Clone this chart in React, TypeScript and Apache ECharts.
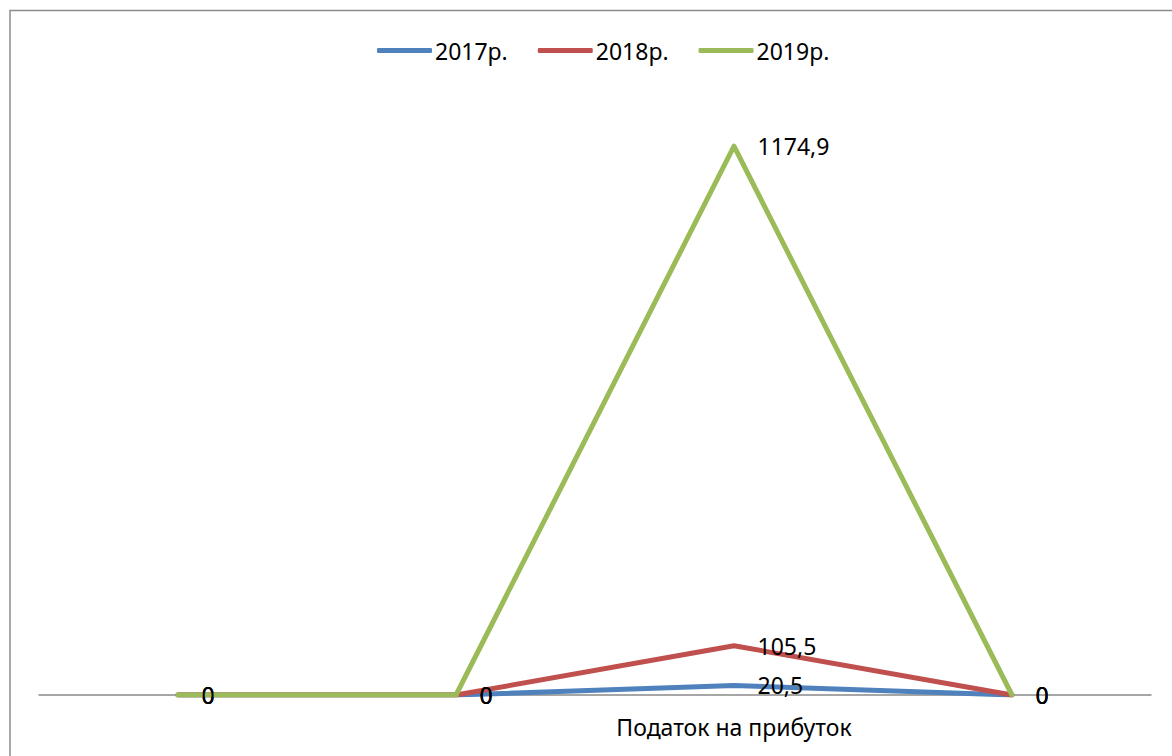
import React, { useEffect, useRef } from "react";
import * as echarts from "echarts";

// Category axis: only the third slot carries a caption
const categories = ["", "", "Податок на прибуток", ""];

const seriesNames = ["2017р.", "2018р.", "2019р."];
const values2017 = [0, 0, 20.5, 0];
const values2018 = [0, 0, 105.5, 0];
const values2019 = [0, 0, 1174.9, 0];

const colors = ["#4F81BD", "#C0504D", "#9BBB59"];

const FONT = "'Noto Sans', sans-serif";

const fmt = (v: number) => String(v).replace(".", ",");

export default function App() {
  const ref = useRef<HTMLDivElement>(null);

  useEffect(() => {
    if (!ref.current) return;
    const chart = echarts.init(ref.current, undefined, { renderer: "svg" });

    const allValues = [values2017, values2018, values2019];

    const series = allValues.map((data, i) => ({
      name: seriesNames[i],
      type: "line" as const,
      data,
      symbol: "circle",
      symbolSize: 1,
      showSymbol: true,
      itemStyle: { color: colors[i] },
      lineStyle: { color: colors[i], width: 5, cap: "round" as const, join: "round" as const },
      label: {
        show: true,
        position: "right" as const,
        distance: 23,
        color: "#000",
        fontFamily: FONT,
        fontSize: 23,
        formatter: (p: any) => fmt(p.value),
      },
      emphasis: { disabled: true },
      z: 2 + i,
    }));

    chart.setOption({
      animation: false,
      backgroundColor: "#fff",
      textStyle: { fontFamily: FONT },
      color: colors,
      legend: {
        left: 372,
        top: 34,
        itemWidth: 55,
        itemHeight: 5,
        itemGap: 30,
        icon: "roundRect",
        textStyle: { color: "#000", fontSize: 23, fontFamily: FONT, padding: [0, 0, 0, -2] },
        data: seriesNames,
      },
      grid: { left: 39, right: 21, top: 41, bottom: 61, containLabel: false },
      xAxis: {
        type: "category",
        data: categories,
        boundaryGap: true,
        axisLine: { show: true, lineStyle: { color: "#898989", width: 1.5 } },
        axisTick: { show: false },
        axisLabel: {
          interval: 0,
          color: "#000",
          fontFamily: FONT,
          fontSize: 23,
          margin: 20,
        },
        splitLine: { show: false },
      },
      yAxis: {
        type: "value",
        min: 0,
        max: 1400,
        interval: 200,
        show: false,
        splitLine: { show: false },
      },
      graphic: [
        {
          type: "rect",
          shape: { x: 10, y: 10.5, width: 1200, height: 800 },
          style: { fill: "none", stroke: "#8c8c8c", lineWidth: 1.5 },
          silent: true,
          z: 0,
        },
      ],
      series,
    });

    return () => chart.dispose();
  }, []);

  return (
    <div
      ref={ref}
      style={{ position: "fixed", left: 0, top: 0, width: 1172, height: 756 }}
    />
  );
}
